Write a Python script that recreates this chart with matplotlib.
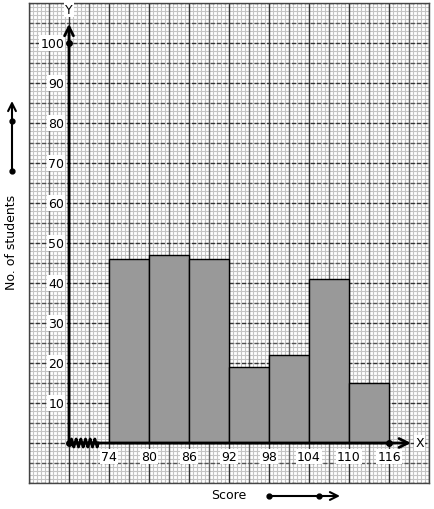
import numpy as np
import matplotlib
matplotlib.use("Agg")
from matplotlib import pyplot as plt
from matplotlib.ticker import FixedLocator

# class intervals (score) and frequencies
bin_edges = [74, 80, 86, 92, 98, 104, 110, 116]
students = [46, 47, 46, 19, 22, 41, 15]
y_ticks = [10, 20, 30, 40, 50, 60, 70, 80, 90, 100]
x_ticks = bin_edges

fig = plt.figure(figsize=(4.34, 5.10), dpi=100)
ax = fig.add_axes([29 / 434, 26 / 510, 400 / 434, 480 / 510])
ax.set_xlim(62, 122)
ax.set_ylim(-10, 110)

# graph paper: minor every 4 px, major every 20 px (darker every 40 px)
ax.xaxis.set_minor_locator(FixedLocator(np.arange(62, 122.1, 0.6)))
ax.yaxis.set_minor_locator(FixedLocator(np.arange(-10, 110.1, 1)))
ax.xaxis.set_major_locator(FixedLocator([]))
ax.yaxis.set_major_locator(FixedLocator([]))
ax.grid(True, which='minor', color='#c4c4c4', lw=0.8)
ax.set_axisbelow(True)
dash = (0, (3, 1.5))
for v in np.arange(65, 122, 6):
    ax.axvline(v, color='#666666', lw=1.0, zorder=1)
for v in np.arange(62, 122.1, 6):
    ax.axvline(v, color='#333333', lw=1.0, zorder=1.1)
for v in np.arange(-5, 110, 10):
    ax.axhline(v, color='#555555', lw=1.0, ls=dash, zorder=1)
for v in np.arange(-10, 110.1, 10):
    ax.axhline(v, color='#333333', lw=1.0, ls=dash, zorder=1.1)
ax.tick_params(which='both', length=0, labelbottom=False, labelleft=False)
for s in ax.spines.values():
    s.set_color('#444444')
    s.set_linewidth(1.0)

# histogram
widths = np.diff(bin_edges)
ax.bar(bin_edges[:-1], students, width=widths, align='edge',
       color='#999999', edgecolor='black', lw=1.0, zorder=3)

# axes with arrows
origin_x = bin_edges[0] - widths[0]
ax.annotate('', xy=(origin_x, 104.8), xytext=(origin_x, 0),
            arrowprops=dict(arrowstyle='->', lw=2, color='black', mutation_scale=16,
                            shrinkA=0, shrinkB=0), zorder=5)
ax.annotate('', xy=(119.3, 0), xytext=(origin_x, 0),
            arrowprops=dict(arrowstyle='->', lw=2, color='black', mutation_scale=16,
                            shrinkA=0, shrinkB=0), zorder=5)
ax.plot([origin_x, bin_edges[-1]], [0, 0], 'ko', ms=4, zorder=6)
ax.plot([origin_x], [y_ticks[-1]], 'ko', ms=4, zorder=6)

# kink on x axis
zx = np.linspace(origin_x + 0.2, origin_x + 4.4, 25)
zy = np.tile([0, 1, 0, -1], 7)[:25] * 1.0
ax.plot(zx, zy, color='black', lw=2.0, zorder=6)

box = dict(facecolor='white', edgecolor='none', pad=0.8)
for v in y_ticks:
    ax.text(origin_x - 0.7, v, str(v), ha='right', va='center', fontsize=9,
            bbox=box, zorder=4)
for v in x_ticks:
    ax.text(v, -3.3, str(v), ha='center', va='center', fontsize=9,
            bbox=box, zorder=4)
ax.text(origin_x, 108.3, 'Y', ha='center', va='center', fontsize=9, bbox=box, zorder=4)
ax.text(120.6, 0, 'X', ha='center', va='center', fontsize=9, bbox=box, zorder=4)

# outside labels and arrows
fig.text(229 / 434, 14 / 510, 'Score', ha='center', va='center', fontsize=9)
fig.text(12 / 434, 268 / 510, 'No. of students', ha='center', va='center',
         fontsize=9, rotation=90)
fig.add_artist(plt.Line2D([269 / 434, 319 / 434], [13 / 510, 13 / 510], color='black',
                          lw=1.5, marker='o', ms=3.5))
fig.add_artist(plt.Line2D([12 / 434, 12 / 434], [338 / 510, 388 / 510], color='black',
                          lw=1.5, marker='o', ms=3.5))
ax.annotate('', xy=(340, 13), xytext=(319, 13), xycoords='figure pixels',
            textcoords='figure pixels',
            arrowprops=dict(arrowstyle='->', lw=1.5, color='black', mutation_scale=14,
                            shrinkA=0, shrinkB=0), annotation_clip=False)
ax.annotate('', xy=(12, 408), xytext=(12, 388), xycoords='figure pixels',
            textcoords='figure pixels',
            arrowprops=dict(arrowstyle='->', lw=1.5, color='black', mutation_scale=14,
                            shrinkA=0, shrinkB=0), annotation_clip=False)

fig.savefig('out.png', dpi=100)
